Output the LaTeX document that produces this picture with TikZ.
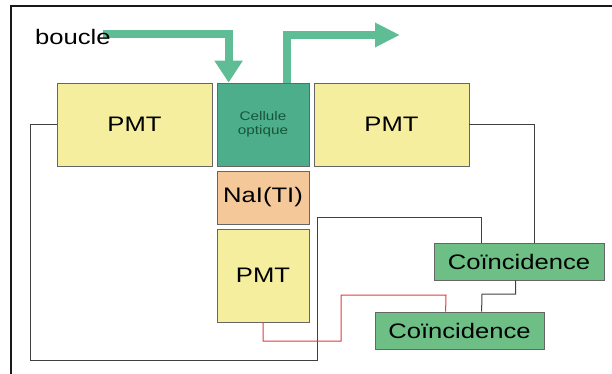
\documentclass[tikz,border=0pt]{standalone}
\usepackage{fontspec}
\setmainfont{Liberation Sans}
\newfontfamily\widefont[FakeStretch=1.22]{Liberation Sans}
\usetikzlibrary{arrows.meta,calc}
\definecolor{pmtyellow}{HTML}{F5EE9F}
\definecolor{naiorange}{HTML}{F5C89A}
\definecolor{cellgreen}{HTML}{4DAE8B}
\definecolor{coincgreen}{HTML}{6DBF85}
\definecolor{flowgreen}{HTML}{5EBD95}
\definecolor{celltext}{HTML}{17553A}
\definecolor{wiregray}{HTML}{404040}
\definecolor{wirered}{HTML}{E43A3A}
\begin{document}
\begin{tikzpicture}[x=1pt,y=-1pt,
  box/.style={draw=black!60,line width=0.8pt,inner sep=0pt,font=\widefont\fontsize{21}{24}\selectfont},
  wire/.style={draw=wiregray,line width=1pt},
  redwire/.style={draw=wirered,line width=1pt},
  flow/.style={draw=flowgreen,line width=8pt,line join=miter}]
\useasboundingbox (0,0) rectangle (612,374);
% frame
\draw[line width=2.2pt,black!90] (11.2,374) -- (11.2,6) -- (612,6);
% boxes
\node[box,fill=pmtyellow,minimum width=155pt,minimum height=83pt] (pmtL) at (134.5,124.5) {PMT};
\node[box,fill=cellgreen,minimum width=92pt,minimum height=83pt,align=center,text=celltext,
  font=\widefont\fontsize{12.5}{13.5}\selectfont] (cell) at (263,124.5) {Cellule\\optique};
\node[box,fill=pmtyellow,minimum width=155pt,minimum height=83pt] (pmtR) at (391.5,124.5) {PMT};
\node[box,fill=naiorange,minimum width=92pt,minimum height=53pt] (nai) at (263,197.5) {NaI(TI)};
\node[box,fill=pmtyellow,minimum width=92pt,minimum height=93pt] (pmtB) at (263,275.5) {PMT};
\node[box,fill=coincgreen,minimum width=170pt,minimum height=37pt] (co1) at (519,261.5) {Coïncidence};
\node[box,fill=coincgreen,minimum width=169pt,minimum height=37pt] (co2) at (459.5,330.5) {Coïncidence};
% flow arrows
\coordinate (inStart) at (103,34.5);
\draw[flow,-{Triangle[width=27pt,length=22pt]}] (inStart) -| ($(cell.north west)+(12,0)$);
\draw[flow,-{Triangle[width=23pt,length=25pt]}] ($(cell.north west)+(70.5,0)$) |- (400,35);
\node[anchor=base west,inner sep=0pt,font=\widefont\fontsize{21}{24}\selectfont] (boucle) at (35,45) {boucle};
% wires
\draw[wire] (pmtL.west) -| (30,360) -| (317,217) -| ($(co1.north west)+(48,0)$);
\draw[wire] (pmtR.east) -| ($(co1.north west)+(101,0)$);
\draw[wire] ($(co1.south west)+(82,0)$) |- (482,294) -- ($(co2.north west)+(107,0)$);
\draw[redwire] (pmtB.south) |- (341,341) |- (446,295) -- ($(co2.north west)+(71,0)$);
\end{tikzpicture}
\end{document}
